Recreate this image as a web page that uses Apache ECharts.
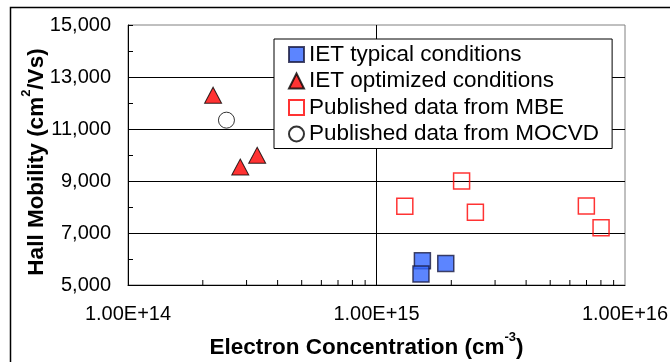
<!DOCTYPE html>
<html lang="en">
<head>
    <meta charset="UTF-8">
    <title>Hall Mobility</title>
    <script type="text/javascript" src="https://cdn.jsdelivr.net/npm/echarts@6.0.0/dist/echarts.min.js"></script>
</head>
<body style="margin:0;background:#fff;">
<div id="main" style="width: 670px;height:362px;"></div>
<script type="text/javascript">
    // 数据 (electron concentration in cm^-3, mobility in cm2/Vs)
    var typicalConc = [1.53e15, 1.51e15, 1.90e15];
    var typicalMob = [5930, 5420, 5830];

    var optimizedConc = [2.20e14, 2.83e14, 3.31e14];
    var optimizedMob = [12300, 9540, 9990];

    var mbeConc = [1.30e15, 2.20e15, 2.50e15, 6.99e15, 8.01e15];
    var mbeMob = [8030, 9000, 7800, 8040, 7200];

    var mocvdConc = [2.49e14];
    var mocvdMob = [11340];

    var seriesNames = ['IET typical conditions', 'IET optimized conditions',
        'Published data from MBE', 'Published data from MOCVD'];

    // x axis ticks: decades and 2..9 minor ticks
    var xDecades = [1e14, 1e15];
    var xMinorSteps = [2, 3, 4, 5, 6, 7, 8, 9];
    var xMin = 1e14, xMax = 1e16;
    var yMin = 5000, yMax = 15000, yStep = 2000;

    function pairs(xs, ys) {
        var rs = [];
        for (var i = 0; i < xs.length; i++) {
            rs.push([xs[i], ys[i]]);
        }
        return rs;
    }

    // minor tick values on the log axis, sitting on the bottom of the plot
    var xTicks = [];
    for (var d = 0; d < xDecades.length; d++) {
        for (var m = 0; m < xMinorSteps.length; m++) {
            xTicks.push([xDecades[d] * xMinorSteps[m], yMin]);
        }
    }

    var font = 'Liberation Sans, Arial, sans-serif';
    var richName = {
        t: {fontSize: 22.5, fontWeight: 'bold', color: '#000', fontFamily: font, lineHeight: 28, verticalAlign: 'bottom'},
        s: {fontSize: 13, fontWeight: 'bold', color: '#000', fontFamily: font, lineHeight: 13, verticalAlign: 'top'}
    };

    var myChart = echarts.init(document.getElementById('main'));

    var option = {
        backgroundColor: '#fff',
        animation: false,
        textStyle: {fontFamily: font},
        graphic: [{
            type: 'rect',
            shape: {x: 10.5, y: 7.5, width: 700, height: 400},
            style: {fill: 'none', stroke: '#000', lineWidth: 1.5},
            z: -1
        }],
        grid: {
            left: 128, right: 45, top: 25, bottom: 77,
            containLabel: false,
            outerBoundsMode: 'none',
            show: true,
            borderColor: '#808080',
            borderWidth: 1
        },
        legend: {
            orient: 'vertical',
            left: 274,
            top: 39,
            padding: [4, 13, 3, 14],
            itemGap: 3.5,
            itemWidth: 15,
            itemHeight: 15,
            backgroundColor: '#fff',
            borderColor: '#000',
            borderWidth: 1,
            textStyle: {fontSize: 22.5, lineHeight: 22.5, color: '#000', fontFamily: font},
            data: [
                {name: seriesNames[0], icon: 'rect'},
                {name: seriesNames[1], icon: 'triangle'},
                {name: seriesNames[2], icon: 'rect'},
                {name: seriesNames[3], icon: 'circle'}
            ]
        },
        xAxis: {
            type: 'log',
            logBase: 10,
            min: xMin,
            max: xMax,
            name: '{t|Electron Concentration (cm}{s|-3}{t|)}',
            nameLocation: 'middle',
            nameGap: 46,
            nameMoveOverlap: false,
            nameTextStyle: {padding: [0, 20, 0, 0], rich: richName},
            axisLine: {show: true, lineStyle: {color: '#000', width: 1}},
            axisTick: {show: false},
            axisLabel: {
                fontSize: 20,
                color: '#000',
                margin: 19,
                formatter: function (v) {
                    return v.toExponential(2).toUpperCase();
                }
            },
            splitLine: {show: true, showMinLine: false, showMaxLine: false, lineStyle: {color: '#000', width: 1}}
        },
        yAxis: {
            type: 'value',
            min: yMin,
            max: yMax,
            interval: yStep,
            name: '{t|Hall Mobility (cm}{s|2}{t|/Vs)}',
            nameLocation: 'middle',
            nameGap: 80,
            nameMoveOverlap: false,
            nameTextStyle: {padding: [0, 14, 0, 0], rich: richName},
            axisLine: {show: true, lineStyle: {color: '#000', width: 1}},
            axisTick: {show: true, inside: true, length: 5, lineStyle: {color: '#000'}},
            minorTick: {show: true, splitNumber: 2, length: 5, lineStyle: {color: '#000'}},
            axisLabel: {
                fontSize: 20,
                color: '#000',
                margin: 17,
                formatter: function (v) {
                    return v.toLocaleString('en-US');
                }
            },
            splitLine: {show: true, showMinLine: false, showMaxLine: false, lineStyle: {color: '#000', width: 1}}
        },
        series: [{
            // minor ticks of the log axis
            type: 'custom',
            silent: true,
            clip: false,
            z: 3,
            data: xTicks,
            renderItem: function (params, api) {
                var p = api.coord([api.value(0), api.value(1)]);
                return {
                    type: 'line',
                    shape: {x1: p[0], y1: p[1], x2: p[0], y2: p[1] - 5},
                    style: {stroke: '#000', lineWidth: 1}
                };
            }
        }, {
            name: seriesNames[0],
            type: 'scatter',
            symbol: 'rect',
            symbolSize: 16,
            itemStyle: {color: '#3366ff', borderColor: '#1a1a40', borderWidth: 1.5},
            data: pairs(typicalConc, typicalMob),
            z: 5
        }, {
            name: seriesNames[1],
            type: 'scatter',
            symbol: 'triangle',
            symbolSize: [17, 16],
            itemStyle: {color: '#ff0000', borderColor: '#000', borderWidth: 1},
            data: pairs(optimizedConc, optimizedMob),
            z: 5
        }, {
            name: seriesNames[2],
            type: 'scatter',
            symbol: 'rect',
            symbolSize: 16,
            itemStyle: {color: 'rgba(0,0,0,0)', borderColor: '#ff0000', borderWidth: 1.5},
            data: pairs(mbeConc, mbeMob),
            z: 5
        }, {
            name: seriesNames[3],
            type: 'scatter',
            symbol: 'circle',
            symbolSize: 16,
            itemStyle: {color: '#fff', borderColor: '#000', borderWidth: 1},
            data: pairs(mocvdConc, mocvdMob),
            z: 5
        }]
    };

    myChart.setOption(option);
</script>
</body>
</html>
